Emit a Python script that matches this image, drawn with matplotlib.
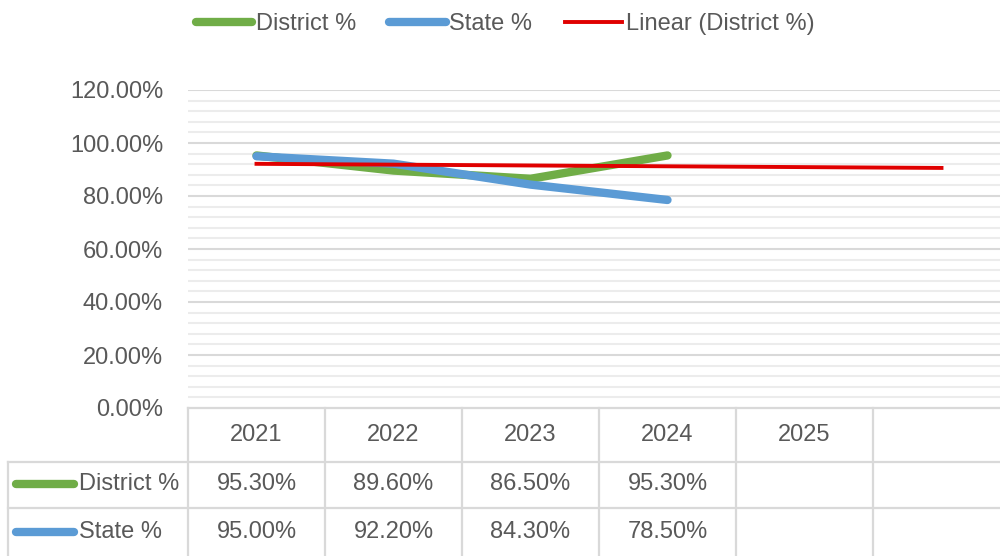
import numpy as np
import matplotlib.pyplot as plt
from matplotlib import font_manager
from matplotlib.lines import Line2D

# data
years = ["2021", "2022", "2023", "2024", "2025", ""]
district = [95.3, 89.6, 86.5, 95.3]
state = [95.0, 92.2, 84.3, 78.5]

plt.rcParams["font.family"] = ["Liberation Sans", "DejaVu Sans"]

txt = "#595959"
grid_major = "#d9d9d9"
grid_minor = "#ececec"
green, blue, red = "#70AD47", "#5B9BD5", "#E00000"
fs = 17

fig = plt.figure(figsize=(10, 5.56), dpi=100)
ax = fig.add_axes([0.188, 1 - 408 / 556, 0.822, 318 / 556])
x = np.arange(len(years))
ax.set_xlim(-0.5, len(years) - 0.5)
ax.set_ylim(0, 120)

# gridlines
for v in np.arange(4, 120, 4):
    if v % 20:
        ax.axhline(v, color=grid_minor, lw=1.5, zorder=1)
for v in np.arange(20, 121, 20):
    ax.axhline(v, color=grid_major, lw=1.5, zorder=1)

n = len(district)
ax.plot(x[:n], district, color=green, lw=6, solid_capstyle="round", zorder=3)
ax.plot(x[:n], state, color=blue, lw=6, solid_capstyle="round", zorder=4)
# linear trendline of the district series, extended over all categories
coef = np.polyfit(x[:n], district, 1)
ax.plot(x, np.polyval(coef, x), color=red, lw=2.8, zorder=5)

for s in ax.spines.values():
    s.set_visible(False)
ax.set_xticks([])
ax.set_yticks(np.arange(0, 121, 20))
ax.set_yticklabels([f"{v:.2f}%" for v in np.arange(0, 121, 20)])
ax.tick_params(axis="y", length=0, pad=18, labelsize=fs, labelcolor=txt)

# data table under the plot
tr = ax.get_xaxis_transform()
px = 318.0
left = -0.5 - 180 / 137
h0, h1, h2 = -54 / px, -100 / px, -148 / px
lc, lw = grid_major, 1.6
ax.plot([-0.5, 5.5], [0, 0], color=lc, lw=lw, transform=tr, clip_on=False)
for yy in (h0, h1):
    ax.plot([left, 5.5], [yy, yy], color=lc, lw=lw, transform=tr, clip_on=False)
ax.plot([left, left], [h0, h2], color=lc, lw=lw, transform=tr, clip_on=False)
for xx in np.arange(-0.5, 6, 1):
    ax.plot([xx, xx], [0, h2], color=lc, lw=lw, transform=tr, clip_on=False)

for i, y in enumerate(years):
    ax.text(i, -27 / px, y, ha="center", va="center", fontsize=fs, color=txt, transform=tr)

rows = [("District %", district, green, -76 / px), ("State %", state, blue, -124 / px)]
for label, vals, col, yc in rows:
    ax.plot([-0.5 - 172 / 137, -0.5 - 114 / 137], [yc, yc], color=col, lw=6,
            solid_capstyle="round", transform=tr, clip_on=False)
    ax.text(-0.5 - 109 / 137, yc, label, ha="left", va="center", fontsize=fs,
            color=txt, transform=tr)
    for i, v in enumerate(vals):
        ax.text(i, yc, f"{v:.2f}%", ha="center", va="center", fontsize=fs,
                color=txt, transform=tr)

handles = [
    Line2D([], [], color=green, lw=6, solid_capstyle="round"),
    Line2D([], [], color=blue, lw=6, solid_capstyle="round"),
    Line2D([], [], color=red, lw=2.8),
]
fig.legend(handles, ["District %", "State %", "Linear (District %)"],
           loc="center", bbox_to_anchor=(0.505, 1 - 24 / 556), ncol=3,
           frameon=False, fontsize=fs, handlelength=2.4, handletextpad=0.15,
           columnspacing=1.4, labelcolor=txt, borderpad=0)

fig.savefig("out.png", dpi=100)
